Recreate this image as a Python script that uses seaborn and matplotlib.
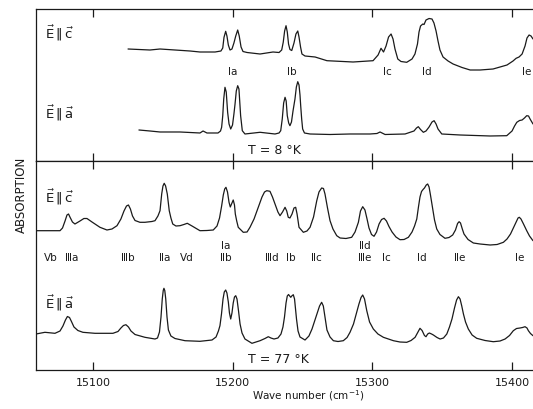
import numpy as np
import pandas as pd
import seaborn as sns
import matplotlib
matplotlib.use("Agg")
import matplotlib.pyplot as plt

wn_8k_c = [15125.1, 15140.8, 15148.0, 15169.5, 15176.6, 15187.4, 15191.6, 15192.9, 15193.8, 15195.0,
           15195.9, 15196.9, 15198.1, 15199.5, 15200.9, 15202.2, 15203.6, 15204.7, 15206.0, 15207.4,
           15210.3, 15219.6, 15228.9, 15233.2, 15235.1, 15236.2, 15237.2, 15238.2, 15239.1, 15240.0,
           15241.0, 15242.3, 15243.9, 15245.3, 15246.6, 15247.5, 15248.6, 15249.6, 15251.8, 15259.0,
           15267.5, 15286.2, 15300.5, 15304.1, 15306.2, 15308.0, 15309.8, 15311.6, 15313.4, 15314.8,
           15316.2, 15318.2, 15320.5, 15324.6, 15328.4, 15330.5, 15332.3, 15333.4, 15334.5, 15336.1,
           15337.0, 15338.4, 15340.6, 15342.7, 15344.1, 15345.6, 15347.0, 15348.4, 15350.6, 15354.2,
           15357.8, 15364.2, 15370.0, 15377.1, 15386.4, 15396.4, 15400.7, 15402.9, 15405.0, 15407.2,
           15409.3, 15410.7, 15412.2, 15413.6, 15415.0]
ab_8k_c = [2, 1, 2, 0, -1, -1, 0, 3, 13.7, 19.7,
           15, 6, 1, 2, 8, 15, 21, 15, 4, -0.5,
           -1.5, -3, -1, -1.5, 1, 8.7, 20, 25.3, 19, 7,
           1.5, 0.5, 8, 17, 20, 14, 4, -3, -5, -6,
           -9.7, -11, -9.7, -4, 2.7, -1, 5, 14, 17, 12,
           2, -8, -10.5, -11.3, -8, -3, 7, 19, 25, 27,
           26.5, 31, 32.5, 32, 28, 20, 10, 1, -6, -10,
           -13, -16.5, -19, -19, -18, -14, -10, -7.3, -6, -3,
           5, 13, 16, 15, 12]

wn_8k_a = [15132.9, 15140.8, 15148.0, 15162.3, 15176.6, 15178.8, 15181.6, 15189.5, 15191.3, 15192.1,
           15192.9, 15193.6, 15194.5, 15195.4, 15196.4, 15197.4, 15198.6, 15199.9, 15200.9, 15201.7,
           15202.6, 15203.6, 15204.5, 15205.7, 15206.9, 15208.8, 15219.6, 15230.3, 15233.2, 15234.4,
           15235.5, 15236.5, 15237.5, 15238.3, 15239.1, 15240.1, 15241.0, 15242.1, 15243.2, 15244.6,
           15245.6, 15246.6, 15247.5, 15248.2, 15248.7, 15249.4, 15250.1, 15251.4, 15255.4, 15269.7,
           15284.0, 15298.3, 15303.3, 15305.5, 15309.1, 15323.4, 15329.8, 15331.6, 15332.9, 15334.5,
           15336.5, 15338.4, 15340.6, 15342.7, 15344.2, 15345.6, 15347.0, 15349.7, 15362.8, 15384.3,
           15396.2, 15400.0, 15401.8, 15403.4, 15405.4, 15407.2, 15408.9, 15410.5, 15411.8, 15412.9,
           15415.0]
ab_8k_a = [2, 1, 0, 0, -1, 1, -1, -1, 1, 4.7,
           16.3, 33, 44.7, 40, 19.7, 8, 3, 7, 18, 28,
           41, 46.3, 43, 16.3, 1.3, -2, -0.3, -2, -1, 1.3,
           13, 29, 34.7, 31, 16.3, 9, 6.3, 10, 21, 33,
           45, 50.3, 47, 37, 26.3, 13, 3, -1, -2, -2.5,
           -2, -2, -1.5, 0, -2.5, -2, 1, 4, 5.3, 2.5,
           -0.3, 1, 5, 10, 11.3, 8, 3, -2, -3, -4,
           -3.7, 1, 6, 9.7, 11.5, 12, 14, 16.3, 16, 13,
           8]

wn_77k_c = [15059.2, 15076.4, 15078.2, 15080.0, 15081.4, 15082.5, 15083.5, 15085.3, 15087.1, 15090.7,
            15093.5, 15095.7, 15099.3, 15105.0, 15110.0, 15113.6, 15117.2, 15120.0, 15122.2, 15124.0,
            15125.4, 15126.8, 15128.3, 15130.1, 15133.6, 15137.2, 15142.2, 15144.4, 15146.5, 15148.0,
            15149.2, 15150.1, 15151.0, 15152.0, 15153.2, 15154.6, 15155.8, 15157.1, 15159.4, 15162.3,
            15165.1, 15167.5, 15170.9, 15176.6, 15181.6, 15186.1, 15188.8, 15190.6, 15192.1, 15193.3,
            15194.3, 15195.2, 15196.3, 15197.4, 15198.3, 15199.2, 15200.4, 15201.3, 15201.9, 15202.9,
            15204.0, 15207.6, 15210.3, 15212.4, 15215.3, 15218.3, 15221.0, 15222.8, 15224.4, 15226.7,
            15228.5, 15230.3, 15232.4, 15233.9, 15235.7, 15237.5, 15238.7, 15239.8, 15241.0, 15242.5,
            15243.9, 15245.1, 15246.1, 15247.5, 15250.6, 15253.2, 15255.4, 15257.9, 15260.2, 15261.8,
            15263.7, 15265.0, 15266.1, 15267.9, 15269.7, 15271.8, 15274.5, 15276.9, 15281.1, 15285.2,
            15287.6, 15290.0, 15291.5, 15293.1, 15294.7, 15296.2, 15297.6, 15299.4, 15301.2, 15303.0,
            15304.8, 15306.6, 15308.4, 15310.1, 15311.9, 15314.1, 15316.9, 15319.8, 15322.7, 15325.8,
            15328.4, 15330.2, 15331.8, 15333.0, 15334.1, 15335.2, 15336.3, 15337.3, 15338.6, 15339.6,
            15340.6, 15341.6, 15343.1, 15344.5, 15346.1, 15348.4, 15352.0, 15354.9, 15357.5, 15359.5,
            15361.0, 15362.1, 15363.1, 15364.4, 15365.6, 15368.5, 15372.3, 15377.1, 15384.3, 15389.3,
            15393.8, 15396.4, 15398.9, 15400.9, 15402.9, 15404.3, 15405.2, 15406.4, 15408.2, 15410.5,
            15412.5, 15415.0]
ab_77k_c = [-0.7, -0.7, 2, 9, 15, 16, 13, 8, 6, 9,
            11.5, 11.5, 8, 2.7, 0, 1, 4.3, 11, 19, 24,
            25, 21, 14, 9.5, 7.7, 7.7, 8.5, 9.3, 14, 19.3,
            36, 44, 46.7, 44, 36, 19.3, 12, 6, 4, 4.3,
            5.5, 6.7, 4, -0.7, -0.5, 0, 4, 12, 24, 35,
            41, 42.7, 38, 27.7, 23, 26, 30, 25, 16, 9,
            2.7, -2.3, -2, 2.7, 11, 22.7, 33, 38, 39.3, 38.7,
            33, 26, 18, 14.3, 18, 22.7, 19, 12.7, 12, 16,
            22, 22.7, 16, 2.7, -2.3, -1, 2.7, 13, 29.3, 38,
            42, 41.5, 36, 22, 9.3, 1, -5.7, -8, -8.5, -7.3,
            -2, 7.7, 19, 23.3, 20, 11, 2, -4.5, -6.3, -2,
            6, 10.5, 11.7, 9, 3.5, -2, -7, -9.7, -9.5, -7.3,
            -2, 4, 11, 23, 33, 38.5, 40.5, 42, 45, 46,
            43, 35, 22, 10, 1, -4.5, -8.3, -7.5, -5, 0,
            6.5, 8.3, 7, 1, -4, -9.5, -13, -14, -15, -14.5,
            -12.3, -9, -4, 2, 8, 12, 12.7, 11, 6, -0.7,
            -6, -10.7]

wn_77k_a = [15059.2, 15065.6, 15072.8, 15076.4, 15078.5, 15080.3, 15081.7, 15083.2, 15084.6, 15086.4,
            15089.2, 15092.8, 15101.4, 15114.3, 15117.9, 15120.0, 15121.8, 15123.6, 15125.4, 15127.2,
            15130.1, 15137.2, 15142.2, 15144.4, 15146.2, 15147.6, 15148.7, 15149.6, 15150.3, 15150.8,
            15151.4, 15152.1, 15153.0, 15154.0, 15155.8, 15158.7, 15165.9, 15176.6, 15185.2, 15188.1,
            15189.8, 15190.9, 15192.0, 15193.1, 15194.0, 15195.0, 15195.9, 15196.9, 15197.7, 15198.6,
            15199.5, 15200.4, 15201.3, 15202.2, 15203.1, 15204.2, 15205.3, 15206.7, 15208.8, 15213.8,
            15219.6, 15223.1, 15225.5, 15227.4, 15229.6, 15232.4, 15234.6, 15236.0, 15237.1, 15238.2,
            15239.1, 15240.0, 15240.8, 15241.6, 15242.3, 15243.4, 15244.3, 15245.0, 15245.7, 15246.8,
            15248.2, 15251.8, 15254.6, 15256.8, 15258.7, 15260.4, 15262.2, 15263.7, 15264.9, 15266.1,
            15267.5, 15269.7, 15272.1, 15275.4, 15279.2, 15281.9, 15284.0, 15286.5, 15288.8, 15290.4,
            15291.9, 15293.1, 15294.4, 15296.0, 15298.0, 15300.7, 15304.0, 15307.9, 15315.1, 15319.8,
            15324.6, 15327.7, 15330.6, 15332.7, 15334.1, 15335.6, 15337.3, 15338.4, 15339.6, 15340.8,
            15342.4, 15343.7, 15346.3, 15348.5, 15350.9, 15353.3, 15355.2, 15357.0, 15358.8, 15360.3,
            15361.6, 15362.8, 15364.0, 15365.2, 15366.7, 15368.7, 15371.4, 15374.7, 15380.7, 15386.6,
            15391.4, 15395.0, 15398.2, 15400.9, 15403.2, 15405.7, 15407.5, 15409.3, 15410.7, 15411.7,
            15413.2, 15415.0]
ab_77k_a = [-1, 0.7, -0.3, 2, 7, 13, 16.5, 15.5, 11.5, 6,
            2.5, 0.7, -0.3, -0.3, 1.5, 5, 7.5, 8.3, 6, 2,
            -1.5, -4.3, -5.5, -6, -5, 1, 16, 34, 42.5, 44.7,
            42.5, 34, 16, 3, -3, -5.5, -7.7, -8.3, -7, -4,
            2, 7.3, 19, 34, 41, 43, 40, 31, 20, 14,
            20, 30, 36, 37.3, 34, 22, 9, 0, -6, -10.3,
            -7.7, -5.5, -3.7, -5, -6, -5, -1, 6, 16, 30,
            37, 38.5, 37, 35.7, 37, 38.3, 34, 24, 14, 2,
            -4, -7, -3, 4, 12, 19, 27, 30.7, 27, 16,
            3, -4, -7.7, -8.5, -7.7, -4.5, 0.7, 9, 20.7, 29,
            35.5, 38, 34, 22.3, 11, 4, -1, -4.3, -7.7, -9,
            -9.3, -7.5, -4.3, 1, 4.7, 2.5, -2.5, -3.7, -1, 0,
            -1, -2, -4.5, -6, -5, -1, 6, 14, 25, 33,
            36.3, 34, 27, 19, 11, 4, -2, -5.3, -7.5, -8.7,
            -8, -6, -2.5, 2.3, 4.5, 5, 5.5, 6.3, 5, 2.3,
            -0.5, -2.7]

# band labels
top_labels = ["Ⅰa", "Ⅰb", "Ⅰc", "Ⅰd", "Ⅰe"]
top_label_wn = [15200.2, 15242.5, 15310.5, 15339.1, 15410.7]
bot_labels = ["Ⅴb", "Ⅲa", "Ⅲb", "Ⅱa", "Ⅴd", "Ⅱb", "Ⅲd", "Ⅰb", "Ⅱc", "Ⅲe", "Ⅰc", "Ⅰd", "Ⅱe", "Ⅰe"]
bot_label_wn = [15069.9, 15085.0, 15125.1, 15151.6, 15167.3, 15195.2, 15228.0, 15241.6,
                15260.2, 15294.8, 15309.8, 15335.3, 15362.8, 15405.7]
upper_labels = ["Ⅰa", "Ⅱd"]
upper_label_wn = [15195.2, 15294.8]

sns.set_style("white")
plt.rcParams["font.family"] = ["DejaVu Sans"]
plt.rcParams["mathtext.fontset"] = "dejavusans"

fig = plt.figure(figsize=(5.33, 4.10), dpi=100)
ax_top = fig.add_axes([0.0675, 0.6049, 0.9325, 0.3707])
ax_bot = fig.add_axes([0.0675, 0.0951, 0.9325, 0.5098])

ink = "#1a1a1a"
xlim = (15059.2, 15415.0)


def trace(ax, wn, ab, offset):
    df = pd.DataFrame({"wn": wn, "ab": np.array(ab) + offset})
    sns.lineplot(data=df, x="wn", y="ab", ax=ax, color=ink, lw=0.9, sort=False)


trace(ax_top, wn_8k_c, ab_8k_c, 110)
trace(ax_top, wn_8k_a, ab_8k_a, 29)
trace(ax_bot, wn_77k_c, ab_77k_c, 140)
trace(ax_bot, wn_77k_a, ab_77k_a, 37)

ax_top.set_ylim(0, 152)
ax_bot.set_ylim(0, 209)

for ax in (ax_top, ax_bot):
    ax.set_xlim(*xlim)
    ax.set_xticks([15100, 15200, 15300, 15400])
    ax.set_yticks([])
    ax.set_xlabel("")
    ax.set_ylabel("")
    ax.spines["right"].set_visible(False)
    for s in ax.spines.values():
        s.set_color(ink)
        s.set_linewidth(0.9)
    ax.tick_params(axis="x", direction="in", top=True, bottom=True, length=6,
                   width=0.9, color=ink, labelsize=8, labelcolor=ink, pad=5)

ax_top.tick_params(axis="x", labelbottom=False)
ax_bot.set_xticklabels(["15100", "15200", "15300", "15400"])

lab = r"$\vec{\mathrm{E}}\,\Vert\,\vec{\mathrm{%s}}$"
ax_top.text(15065.6, 129, lab % "c", fontsize=9.5, va="center", ha="left", color=ink)
ax_top.text(15065.6, 49, lab % "a", fontsize=9.5, va="center", ha="left", color=ink)
ax_bot.text(15065.6, 174, lab % "c", fontsize=9.5, va="center", ha="left", color=ink)
ax_bot.text(15065.6, 68, lab % "a", fontsize=9.5, va="center", ha="left", color=ink)

ax_top.text(15211.0, 11, "T = 8 °K", fontsize=9, va="center", ha="left", color=ink)
ax_bot.text(15211.0, 12, "T = 77 °K", fontsize=9, va="center", ha="left", color=ink)

for name, w in zip(top_labels, top_label_wn):
    ax_top.text(w, 90, name, fontsize=7.5, ha="center", va="center", color=ink)
for name, w in zip(bot_labels, bot_label_wn):
    ax_bot.text(w, 113, name, fontsize=7.5, ha="center", va="center", color=ink)
for name, w in zip(upper_labels, upper_label_wn):
    ax_bot.text(w, 125, name, fontsize=7.5, ha="center", va="center", color=ink)

fig.text(0.041, 0.525, "ABSORPTION", rotation=90, fontsize=8.5, ha="center", va="center", color=ink)
fig.text(0.578, 0.017, "Wave number (cm$^{-1}$)", fontsize=7.5, ha="center", va="bottom", color=ink)

fig.savefig("out.png", dpi=100, facecolor="white")
